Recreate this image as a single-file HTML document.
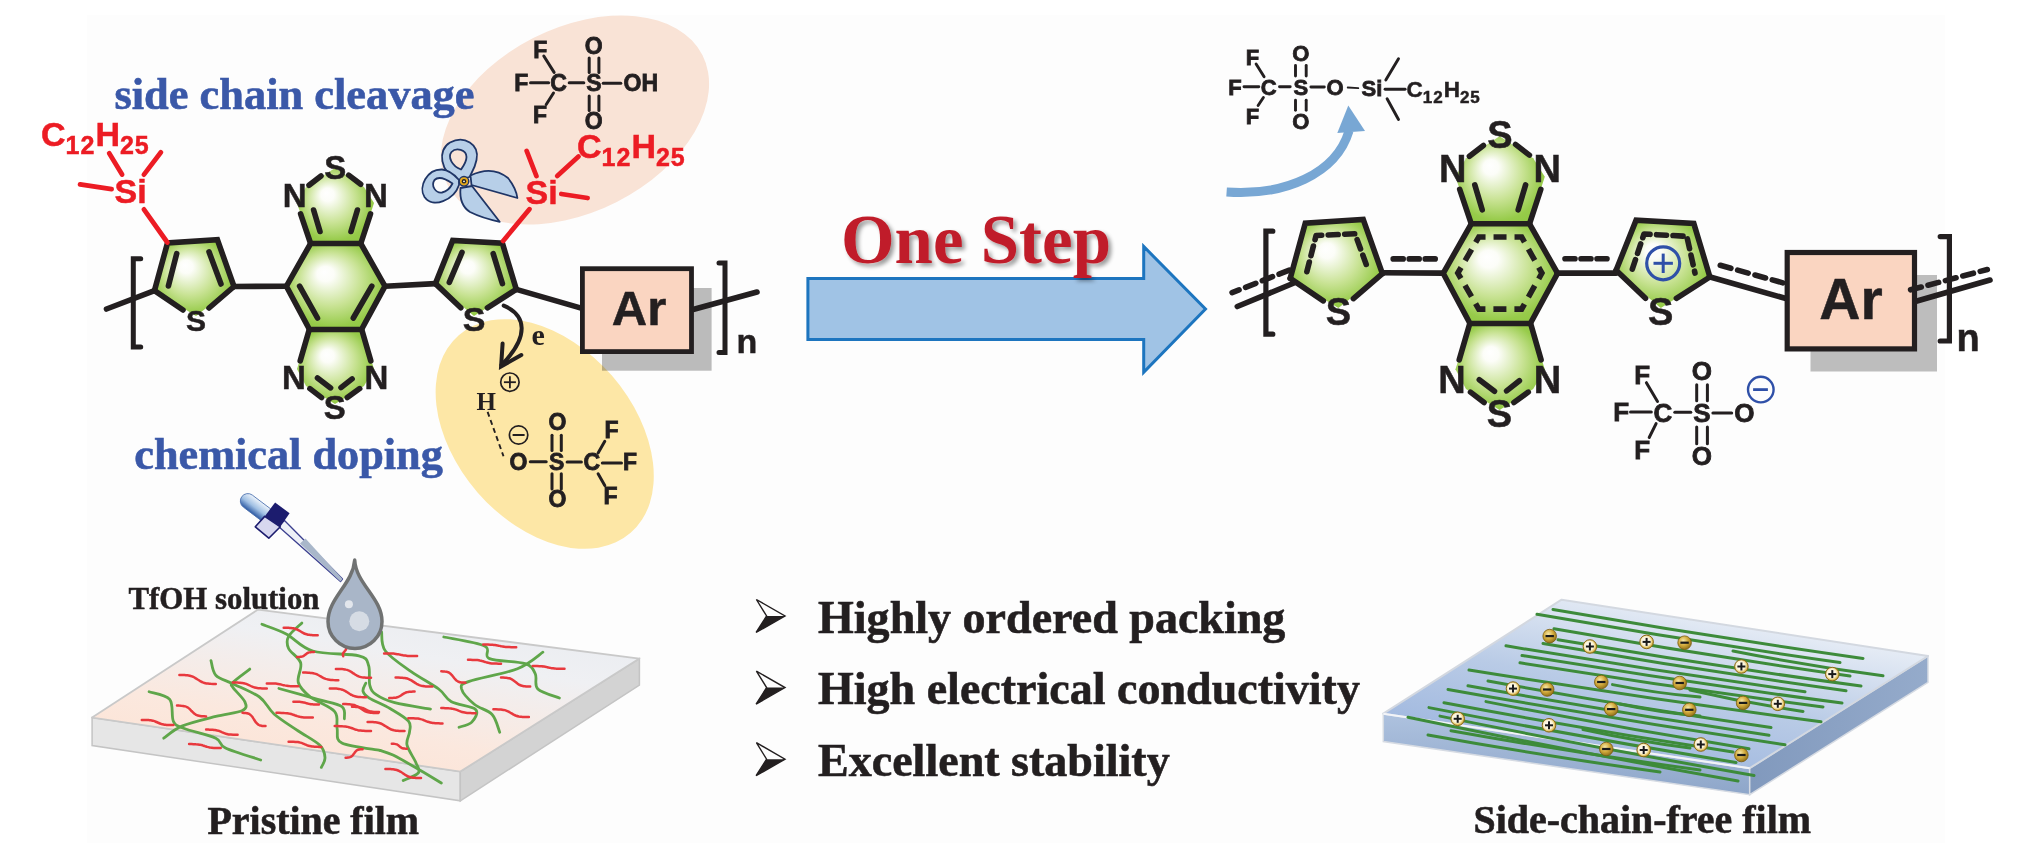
<!DOCTYPE html>
<html><head><meta charset="utf-8">
<style>
html,body{margin:0;padding:0;background:#ffffff;}
body{width:2020px;height:866px;overflow:hidden;}
svg{display:block;}
</style></head>
<body>
<svg width="2020" height="866" viewBox="0 0 2020 866">

<defs>
 <radialGradient id="gG" cx="0.5" cy="0.5" r="0.62" fx="0.38" fy="0.33">
  <stop offset="0" stop-color="#ffffff"/>
  <stop offset="0.14" stop-color="#fcfdf8"/>
  <stop offset="0.5" stop-color="#c9e395"/>
  <stop offset="0.8" stop-color="#97cb4a"/>
  <stop offset="1" stop-color="#8cc63f"/>
 </radialGradient>
 <filter id="shd" x="-10%" y="-20%" width="130%" height="150%">
  <feGaussianBlur in="SourceAlpha" stdDeviation="2.3" result="bl"/>
  <feOffset in="bl" dx="2.5" dy="3" result="ob"/>
  <feComponentTransfer in="ob" result="oc"><feFuncA type="linear" slope="0.4"/></feComponentTransfer>
  <feMerge><feMergeNode in="oc"/><feMergeNode in="SourceGraphic"/></feMerge>
 </filter>
 <linearGradient id="pristTop" x1="0" y1="1" x2="0.55" y2="0">
  <stop offset="0" stop-color="#fde1d1"/>
  <stop offset="0.4" stop-color="#fbe8de"/>
  <stop offset="0.8" stop-color="#eff0f3"/>
  <stop offset="1" stop-color="#ebedf1"/>
 </linearGradient>
 <linearGradient id="freeTop" x1="0" y1="1" x2="0.6" y2="0">
  <stop offset="0" stop-color="#93aedb"/>
  <stop offset="0.55" stop-color="#b9cbe6"/>
  <stop offset="1" stop-color="#eef2f8"/>
 </linearGradient>
 <linearGradient id="freeFront" x1="0" y1="0" x2="0" y2="1">
  <stop offset="0" stop-color="#aec2df"/>
  <stop offset="1" stop-color="#8ea6c9"/>
 </linearGradient>
 <linearGradient id="freeSide" x1="0" y1="0" x2="1" y2="0">
  <stop offset="0" stop-color="#8199bd"/>
  <stop offset="1" stop-color="#95abcb"/>
 </linearGradient>
 <radialGradient id="goldM" cx="0.4" cy="0.35" r="0.7">
  <stop offset="0" stop-color="#f6e7a8"/>
  <stop offset="0.5" stop-color="#d3ab3c"/>
  <stop offset="1" stop-color="#8a6a16"/>
 </radialGradient>
 <radialGradient id="goldP" cx="0.45" cy="0.45" r="0.6">
  <stop offset="0" stop-color="#ffffff"/>
  <stop offset="0.55" stop-color="#fbf3d6"/>
  <stop offset="0.8" stop-color="#e0bf5a"/>
  <stop offset="1" stop-color="#9c7a1f"/>
 </radialGradient>
 <linearGradient id="bulb" x1="0" y1="1" x2="0" y2="0">
  <stop offset="0" stop-color="#2d5aa3"/>
  <stop offset="0.45" stop-color="#9fbfe3"/>
  <stop offset="1" stop-color="#eef4fb"/>
 </linearGradient>
</defs>

<rect x="87" y="15" width="1858" height="828" fill="#fdfdfd"/>
<ellipse cx="575" cy="120" rx="143" ry="92" transform="rotate(-27 575 120)" fill="#f9e3d6"/>
<ellipse cx="544.7" cy="434" rx="131" ry="89" transform="rotate(49 544.7 434)" fill="#fde7a6"/>
<polygon points="167.5,242.9 217.4,239.7 234.0,286.5 196.0,316.0 154.5,290.6" fill="url(#gG)" stroke="none" stroke-width="0" />
<polygon points="310.6,243.5 360.8,243.5 385.0,286.2 361.5,329.5 309.5,329.5 286.4,286.2" fill="url(#gG)" stroke="none" stroke-width="0" />
<polygon points="310.6,243.5 297.0,203.0 306.0,187.0 335.0,168.0 364.0,187.0 374.0,203.0 360.8,243.5" fill="url(#gG)" stroke="none" stroke-width="0" />
<polygon points="309.5,329.5 297.0,369.0 306.0,386.0 335.0,404.0 364.0,386.0 374.0,369.0 361.5,329.5" fill="url(#gG)" stroke="none" stroke-width="0" />
<polygon points="452.7,240.4 502.4,243.2 516.3,289.4 474.0,316.0 435.4,283.6" fill="url(#gG)" stroke="none" stroke-width="0" />
<polyline points="154.5,290.6 167.5,242.9 217.4,239.7 234.0,286.5" fill="none" stroke="#231f20" stroke-width="5.6" stroke-linejoin="miter" stroke-linecap="round" />
<line x1="154.5" y1="290.6" x2="183.0" y2="310.0" stroke="#231f20" stroke-width="5.6" stroke-linecap="round" />
<line x1="234.0" y1="286.5" x2="209.0" y2="308.0" stroke="#231f20" stroke-width="5.6" stroke-linecap="round" />
<polygon points="310.6,243.5 360.8,243.5 385.0,286.2 361.5,329.5 309.5,329.5 286.4,286.2" fill="none" stroke="#231f20" stroke-width="5.6" stroke-linejoin="miter"/>
<line x1="310.6" y1="243.5" x2="300.6" y2="213.9" stroke="#231f20" stroke-width="5.6" stroke-linecap="round" />
<line x1="360.8" y1="243.5" x2="370.5" y2="213.9" stroke="#231f20" stroke-width="5.6" stroke-linecap="round" />
<line x1="313.6" y1="210.0" x2="320.0" y2="231.5" stroke="#231f20" stroke-width="5.6" stroke-linecap="round" />
<line x1="357.4" y1="210.0" x2="351.0" y2="231.5" stroke="#231f20" stroke-width="5.6" stroke-linecap="round" />
<line x1="309.0" y1="185.3" x2="321.0" y2="176.0" stroke="#231f20" stroke-width="5.6" stroke-linecap="round" />
<line x1="348.7" y1="175.1" x2="360.7" y2="184.3" stroke="#231f20" stroke-width="5.6" stroke-linecap="round" />
<line x1="309.2" y1="329.7" x2="300.2" y2="360.9" stroke="#231f20" stroke-width="5.6" stroke-linecap="round" />
<line x1="361.8" y1="329.7" x2="370.8" y2="360.9" stroke="#231f20" stroke-width="5.6" stroke-linecap="round" />
<line x1="309.9" y1="388.6" x2="321.6" y2="397.6" stroke="#231f20" stroke-width="5.6" stroke-linecap="round" />
<line x1="347.3" y1="397.6" x2="359.7" y2="388.6" stroke="#231f20" stroke-width="5.6" stroke-linecap="round" />
<line x1="317.5" y1="378.0" x2="330.6" y2="387.9" stroke="#231f20" stroke-width="5.6" stroke-linecap="round" />
<line x1="341.0" y1="387.6" x2="352.1" y2="378.9" stroke="#231f20" stroke-width="5.6" stroke-linecap="round" />
<polyline points="435.4,283.6 452.7,240.4 502.4,243.2 516.3,289.4" fill="none" stroke="#231f20" stroke-width="5.6" stroke-linejoin="miter" stroke-linecap="round" />
<line x1="435.4" y1="283.6" x2="460.8" y2="307.8" stroke="#231f20" stroke-width="5.6" stroke-linecap="round" />
<line x1="516.3" y1="289.4" x2="487.4" y2="307.8" stroke="#231f20" stroke-width="5.6" stroke-linecap="round" />
<line x1="176.7" y1="253.6" x2="168.4" y2="286.0" stroke="#231f20" stroke-width="5.6" stroke-linecap="round" />
<line x1="209.0" y1="251.8" x2="221.0" y2="284.0" stroke="#231f20" stroke-width="5.6" stroke-linecap="round" />
<line x1="299.6" y1="286.2" x2="317.5" y2="318.0" stroke="#231f20" stroke-width="5.6" stroke-linecap="round" />
<line x1="371.8" y1="286.2" x2="353.3" y2="318.0" stroke="#231f20" stroke-width="5.6" stroke-linecap="round" />
<line x1="462.0" y1="252.4" x2="449.3" y2="282.4" stroke="#231f20" stroke-width="5.6" stroke-linecap="round" />
<line x1="493.2" y1="253.6" x2="502.4" y2="283.6" stroke="#231f20" stroke-width="5.6" stroke-linecap="round" />
<line x1="154.5" y1="290.6" x2="106.5" y2="309.0" stroke="#231f20" stroke-width="5.6" stroke-linecap="round" />
<polyline points="140.7,258.8 133.3,258.8 133.3,347.0 140.7,347.0" fill="none" stroke="#231f20" stroke-width="5" stroke-linejoin="miter" stroke-linecap="round" />
<line x1="234.0" y1="286.5" x2="286.4" y2="286.2" stroke="#231f20" stroke-width="5.6" stroke-linecap="round" />
<line x1="385.0" y1="286.2" x2="435.4" y2="283.6" stroke="#231f20" stroke-width="5.6" stroke-linecap="round" />
<line x1="516.3" y1="289.4" x2="582.0" y2="308.4" stroke="#231f20" stroke-width="5.6" stroke-linecap="round" />
<text x="196.0" y="330.5" font-size="30" font-family="Liberation Sans" font-weight="bold" fill="#231f20" stroke="#231f20" stroke-width="0.5" text-anchor="middle" >S</text>
<text x="294.6" y="207.4" font-size="33" font-family="Liberation Sans" font-weight="bold" fill="#231f20" stroke="#231f20" stroke-width="0.5" text-anchor="middle" >N</text>
<text x="376.0" y="207.4" font-size="33" font-family="Liberation Sans" font-weight="bold" fill="#231f20" stroke="#231f20" stroke-width="0.5" text-anchor="middle" >N</text>
<text x="335.3" y="178.5" font-size="33" font-family="Liberation Sans" font-weight="bold" fill="#231f20" stroke="#231f20" stroke-width="0.5" text-anchor="middle" >S</text>
<text x="294.0" y="389.0" font-size="33" font-family="Liberation Sans" font-weight="bold" fill="#231f20" stroke="#231f20" stroke-width="0.5" text-anchor="middle" >N</text>
<text x="376.3" y="389.0" font-size="33" font-family="Liberation Sans" font-weight="bold" fill="#231f20" stroke="#231f20" stroke-width="0.5" text-anchor="middle" >N</text>
<text x="334.8" y="418.5" font-size="33" font-family="Liberation Sans" font-weight="bold" fill="#231f20" stroke="#231f20" stroke-width="0.5" text-anchor="middle" >S</text>
<text x="474.0" y="330.5" font-size="34" font-family="Liberation Sans" font-weight="bold" fill="#231f20" stroke="#231f20" stroke-width="0.5" text-anchor="middle" >S</text>
<line x1="167.4" y1="242.5" x2="143.9" y2="209.4" stroke="#ec1c24" stroke-width="4.8" stroke-linecap="round" />
<line x1="109.2" y1="153.3" x2="122.1" y2="174.6" stroke="#ec1c24" stroke-width="4.8" stroke-linecap="round" />
<line x1="160.9" y1="152.3" x2="143.9" y2="174.6" stroke="#ec1c24" stroke-width="4.8" stroke-linecap="round" />
<line x1="80.1" y1="184.3" x2="111.6" y2="189.2" stroke="#ec1c24" stroke-width="4.8" stroke-linecap="round" />
<text x="114.5" y="203.4" font-size="34" font-family="Liberation Sans" font-weight="bold" fill="#ec1c24" stroke="#ec1c24" stroke-width="0.5" text-anchor="start" >Si</text>
<text x="41" y="146" font-size="34" font-family="Liberation Sans" font-weight="bold" fill="#ec1c24" stroke="#ec1c24" stroke-width="0.5">C<tspan font-size="25" dy="8" letter-spacing="1">12</tspan><tspan dy="-8">H</tspan><tspan font-size="25" dy="8" letter-spacing="1">25</tspan></text>
<line x1="503.1" y1="241.0" x2="529.4" y2="209.2" stroke="#ec1c24" stroke-width="4.8" stroke-linecap="round" />
<line x1="526.7" y1="151.0" x2="536.4" y2="176.0" stroke="#ec1c24" stroke-width="4.8" stroke-linecap="round" />
<line x1="557.2" y1="176.0" x2="578.5" y2="156.5" stroke="#ec1c24" stroke-width="4.8" stroke-linecap="round" />
<line x1="561.3" y1="194.0" x2="587.6" y2="198.0" stroke="#ec1c24" stroke-width="4.8" stroke-linecap="round" />
<text x="525.5" y="204.0" font-size="34" font-family="Liberation Sans" font-weight="bold" fill="#ec1c24" stroke="#ec1c24" stroke-width="0.5" text-anchor="start" >Si</text>
<text x="577" y="158" font-size="34" font-family="Liberation Sans" font-weight="bold" fill="#ec1c24" stroke="#ec1c24" stroke-width="0.5">C<tspan font-size="25" dy="7.7" letter-spacing="1">12</tspan><tspan dy="-7.7">H</tspan><tspan font-size="25" dy="7.7" letter-spacing="1">25</tspan></text>
<rect x="602" y="288" width="109.6" height="82.7" fill="#bdbdbd" style="mix-blend-mode:multiply"/>
<rect x="582.4" y="268.7" width="109.1" height="82.9" fill="#fad5c1" stroke="#231f20" stroke-width="4.8"/>
<text x="639.0" y="324.8" font-size="49" font-family="Liberation Sans" font-weight="bold" fill="#231f20" stroke="#231f20" stroke-width="0.5" text-anchor="middle" >Ar</text>
<line x1="694.0" y1="309.3" x2="757.0" y2="292.0" stroke="#231f20" stroke-width="5.6" stroke-linecap="round" />
<polyline points="719.0,263.0 725.0,263.0 725.0,352.6 719.0,352.6" fill="none" stroke="#231f20" stroke-width="5" stroke-linejoin="miter" stroke-linecap="round" />
<text x="736.5" y="352.6" font-size="34" font-family="Liberation Sans" font-weight="bold" fill="#231f20" stroke="#231f20" stroke-width="0.5" text-anchor="start" >n</text>
<path d="M503.7,305.6 C526,315 530,336 501.5,365" fill="none" stroke="#231f20" stroke-width="4" stroke-linecap="round"/>
<polyline points="502.6,343.5 501.1,366.4 521.3,355.0" fill="none" stroke="#231f20" stroke-width="4" stroke-linejoin="miter" stroke-linecap="round" />
<text x="531.5" y="345.0" font-size="30" font-family="Liberation Serif" font-weight="bold" fill="#231f20"  text-anchor="start" >e</text>
<line x1="530.5" y1="82.7" x2="548.6" y2="82.7" stroke="#231f20" stroke-width="3" stroke-linecap="round" />
<line x1="569.2" y1="82.7" x2="583.8" y2="82.7" stroke="#231f20" stroke-width="3" stroke-linecap="round" />
<line x1="603.2" y1="83.3" x2="620.8" y2="83.3" stroke="#231f20" stroke-width="3" stroke-linecap="round" />
<line x1="543.8" y1="56.0" x2="554.1" y2="72.4" stroke="#231f20" stroke-width="3" stroke-linecap="round" />
<line x1="553.5" y1="93.0" x2="546.2" y2="104.5" stroke="#231f20" stroke-width="3" stroke-linecap="round" />
<line x1="589.2" y1="57.9" x2="589.2" y2="72.4" stroke="#231f20" stroke-width="3" stroke-linecap="round" />
<line x1="589.2" y1="96.0" x2="589.2" y2="110.6" stroke="#231f20" stroke-width="3" stroke-linecap="round" />
<line x1="598.9" y1="57.9" x2="598.9" y2="72.4" stroke="#231f20" stroke-width="3" stroke-linecap="round" />
<line x1="598.9" y1="96.0" x2="598.9" y2="110.6" stroke="#231f20" stroke-width="3" stroke-linecap="round" />
<text x="540.2" y="57.6" font-size="23" font-family="Liberation Sans" font-weight="bold" fill="#231f20" stroke="#231f20" stroke-width="0.8" text-anchor="middle" >F</text>
<text x="521.4" y="90.6" font-size="23" font-family="Liberation Sans" font-weight="bold" fill="#231f20" stroke="#231f20" stroke-width="0.8" text-anchor="middle" >F</text>
<text x="540.0" y="123.3" font-size="23" font-family="Liberation Sans" font-weight="bold" fill="#231f20" stroke="#231f20" stroke-width="0.8" text-anchor="middle" >F</text>
<text x="558.6" y="90.6" font-size="23" font-family="Liberation Sans" font-weight="bold" fill="#231f20" stroke="#231f20" stroke-width="0.8" text-anchor="middle" >C</text>
<text x="593.8" y="90.6" font-size="23" font-family="Liberation Sans" font-weight="bold" fill="#231f20" stroke="#231f20" stroke-width="0.8" text-anchor="middle" >S</text>
<text x="623.5" y="90.6" font-size="23" font-family="Liberation Sans" font-weight="bold" fill="#231f20" stroke="#231f20" stroke-width="0.8" text-anchor="start" >OH</text>
<text x="593.8" y="53.6" font-size="23" font-family="Liberation Sans" font-weight="bold" fill="#231f20" stroke="#231f20" stroke-width="0.8" text-anchor="middle" >O</text>
<text x="593.8" y="129.4" font-size="23" font-family="Liberation Sans" font-weight="bold" fill="#231f20" stroke="#231f20" stroke-width="0.8" text-anchor="middle" >O</text>
<circle cx="509.9" cy="382.2" r="9.2" fill="none" stroke="#231f20" stroke-width="1.7"/>
<line x1="503.9" y1="382.2" x2="515.9" y2="382.2" stroke="#231f20" stroke-width="1.8" stroke-linecap="butt" />
<line x1="509.9" y1="376.2" x2="509.9" y2="388.2" stroke="#231f20" stroke-width="1.8" stroke-linecap="butt" />
<text x="486.3" y="409.9" font-size="25" font-family="Liberation Serif" font-weight="bold" fill="#231f20"  text-anchor="middle" >H</text>
<line x1="487.6" y1="411.9" x2="503.5" y2="456.3" stroke="#231f20" stroke-width="1.9" stroke-linecap="butt" stroke-dasharray="5,3.6"/>
<circle cx="518.6" cy="435" r="9.2" fill="none" stroke="#231f20" stroke-width="1.7"/>
<line x1="512.6" y1="435.0" x2="524.6" y2="435.0" stroke="#231f20" stroke-width="2" stroke-linecap="butt" />
<line x1="530.3" y1="461.8" x2="546.2" y2="461.8" stroke="#231f20" stroke-width="3" stroke-linecap="round" />
<line x1="567.1" y1="462.1" x2="581.4" y2="462.1" stroke="#231f20" stroke-width="3" stroke-linecap="round" />
<line x1="602.3" y1="463.0" x2="621.5" y2="463.0" stroke="#231f20" stroke-width="3" stroke-linecap="round" />
<line x1="598.1" y1="452.9" x2="604.8" y2="441.2" stroke="#231f20" stroke-width="3" stroke-linecap="round" />
<line x1="598.1" y1="473.8" x2="604.8" y2="485.6" stroke="#231f20" stroke-width="3" stroke-linecap="round" />
<line x1="552.0" y1="435.3" x2="552.0" y2="450.4" stroke="#231f20" stroke-width="3" stroke-linecap="round" />
<line x1="552.0" y1="473.8" x2="552.0" y2="488.9" stroke="#231f20" stroke-width="3" stroke-linecap="round" />
<line x1="561.3" y1="435.3" x2="561.3" y2="450.4" stroke="#231f20" stroke-width="3" stroke-linecap="round" />
<line x1="561.3" y1="473.8" x2="561.3" y2="488.9" stroke="#231f20" stroke-width="3" stroke-linecap="round" />
<text x="518.5" y="469.7" font-size="23" font-family="Liberation Sans" font-weight="bold" fill="#231f20" stroke="#231f20" stroke-width="0.8" text-anchor="middle" >O</text>
<text x="556.6" y="469.7" font-size="23" font-family="Liberation Sans" font-weight="bold" fill="#231f20" stroke="#231f20" stroke-width="0.8" text-anchor="middle" >S</text>
<text x="591.8" y="469.7" font-size="23" font-family="Liberation Sans" font-weight="bold" fill="#231f20" stroke="#231f20" stroke-width="0.8" text-anchor="middle" >C</text>
<text x="630.0" y="470.0" font-size="23" font-family="Liberation Sans" font-weight="bold" fill="#231f20" stroke="#231f20" stroke-width="0.8" text-anchor="middle" >F</text>
<text x="611.5" y="437.8" font-size="23" font-family="Liberation Sans" font-weight="bold" fill="#231f20" stroke="#231f20" stroke-width="0.8" text-anchor="middle" >F</text>
<text x="610.6" y="504.0" font-size="23" font-family="Liberation Sans" font-weight="bold" fill="#231f20" stroke="#231f20" stroke-width="0.8" text-anchor="middle" >F</text>
<text x="557.4" y="430.3" font-size="23" font-family="Liberation Sans" font-weight="bold" fill="#231f20" stroke="#231f20" stroke-width="0.8" text-anchor="middle" >O</text>
<text x="557.4" y="507.3" font-size="23" font-family="Liberation Sans" font-weight="bold" fill="#231f20" stroke="#231f20" stroke-width="0.8" text-anchor="middle" >O</text>
<text x="114.5" y="109" font-size="44.6" font-family="Liberation Serif" font-weight="bold" fill="#3a58a8" stroke="#3a58a8" stroke-width="0.6" textLength="360" lengthAdjust="spacingAndGlyphs">side chain cleavage</text>
<text x="134.3" y="468.8" font-size="44.4" font-family="Liberation Serif" font-weight="bold" fill="#3a58a8" stroke="#3a58a8" stroke-width="0.6" textLength="308.5" lengthAdjust="spacingAndGlyphs">chemical doping</text>
<g stroke="#1f3566" stroke-width="1.8" stroke-linejoin="round">
<path d="M470.5,175.5 Q492,165 508,178 Q516,188 517.4,198 L471.5,185 Z" fill="#b7cfe8"/>
<path d="M460.5,188 Q459,205 470,212 Q482,218 499.7,221.8 L472,186 Z" fill="#b7cfe8"/>
<path fill-rule="evenodd" fill="#b7cfe8" d="M458,180 C440,172 437,150 450,142.5 C464,135 480,144 476.5,160 C475,168 472,172 469.5,177 Z M461,169.5 C452,166 447.5,157 451.5,152 C456,147 466.5,149.5 466.5,157 C466.5,162 463.5,166 461,169.5 Z"/>
<path fill-rule="evenodd" fill="#b7cfe8" d="M459,185 C454,200 433,209 424.5,197 C418,187 427,169 442,169.5 C450,170 455.5,176 459,180 Z M452.5,183.5 C446,179 438.5,176 434.5,180 C430.5,186 436,193.5 442,192.5 C447,191.5 450.5,187.5 452.5,183.5 Z"/>
<circle cx="464" cy="181.3" r="4.8" fill="#e5a91c" stroke="#1f3566" stroke-width="1.4"/>
<circle cx="464" cy="181.3" r="2.2" fill="#222222" stroke="none"/>
<circle cx="464" cy="181.3" r="0.9" fill="#ffffff" stroke="none"/>
</g>
<polygon points="807.9,278.6 1143.7,278.6 1143.7,246.5 1205.5,309 1143.7,372.3 1143.7,339.5 807.9,339.5" fill="#a0c3e5" stroke="#1d75bf" stroke-width="3" stroke-linejoin="miter"/>
<text x="841" y="262.5" font-size="70" font-family="Liberation Serif" font-weight="bold" fill="#c01f29" filter="url(#shd)" textLength="270" lengthAdjust="spacingAndGlyphs">One Step</text>
<polygon points="1305.3,223.1 1363.2,219.4 1382.4,273.6 1338.4,307.9 1290.2,278.4" fill="url(#gG)" stroke="none" stroke-width="0" />
<polygon points="1471.3,223.8 1529.5,223.8 1557.6,273.3 1530.3,323.5 1470.0,323.5 1443.2,273.3" fill="url(#gG)" stroke="none" stroke-width="0" />
<polygon points="1471.3,223.8 1455.5,176.8 1466.0,158.2 1499.6,136.2 1533.2,158.2 1544.8,176.8 1529.5,223.8" fill="url(#gG)" stroke="none" stroke-width="0" />
<polygon points="1470.0,323.5 1455.5,369.3 1466.0,389.1 1499.6,409.9 1533.2,389.1 1544.8,369.3 1530.3,323.5" fill="url(#gG)" stroke="none" stroke-width="0" />
<polygon points="1636.1,220.2 1693.8,223.4 1709.9,277.0 1660.8,307.9 1616.1,270.3" fill="url(#gG)" stroke="none" stroke-width="0" />
<polyline points="1290.2,278.4 1305.3,223.1 1363.2,219.4 1382.4,273.6" fill="none" stroke="#231f20" stroke-width="5.6" stroke-linejoin="miter" stroke-linecap="round" />
<line x1="1290.2" y1="278.4" x2="1323.3" y2="300.9" stroke="#231f20" stroke-width="5.6" stroke-linecap="round" />
<line x1="1382.4" y1="273.6" x2="1353.4" y2="298.6" stroke="#231f20" stroke-width="5.6" stroke-linecap="round" />
<polygon points="1471.3,223.8 1529.5,223.8 1557.6,273.3 1530.3,323.5 1470.0,323.5 1443.2,273.3" fill="none" stroke="#231f20" stroke-width="5.6" stroke-linejoin="miter"/>
<line x1="1471.3" y1="223.8" x2="1459.7" y2="189.4" stroke="#231f20" stroke-width="5.6" stroke-linecap="round" />
<line x1="1529.5" y1="223.8" x2="1540.8" y2="189.4" stroke="#231f20" stroke-width="5.6" stroke-linecap="round" />
<line x1="1474.8" y1="184.9" x2="1482.2" y2="209.8" stroke="#231f20" stroke-width="5.6" stroke-linecap="round" />
<line x1="1525.6" y1="184.9" x2="1518.2" y2="209.8" stroke="#231f20" stroke-width="5.6" stroke-linecap="round" />
<line x1="1469.4" y1="156.2" x2="1483.4" y2="145.5" stroke="#231f20" stroke-width="5.6" stroke-linecap="round" />
<line x1="1515.5" y1="144.4" x2="1529.4" y2="155.1" stroke="#231f20" stroke-width="5.6" stroke-linecap="round" />
<line x1="1469.7" y1="323.8" x2="1459.2" y2="359.9" stroke="#231f20" stroke-width="5.6" stroke-linecap="round" />
<line x1="1530.7" y1="323.8" x2="1541.1" y2="359.9" stroke="#231f20" stroke-width="5.6" stroke-linecap="round" />
<line x1="1470.5" y1="392.1" x2="1484.1" y2="402.5" stroke="#231f20" stroke-width="5.6" stroke-linecap="round" />
<line x1="1513.9" y1="402.5" x2="1528.3" y2="392.1" stroke="#231f20" stroke-width="5.6" stroke-linecap="round" />
<line x1="1479.3" y1="379.8" x2="1494.5" y2="391.3" stroke="#231f20" stroke-width="5.6" stroke-linecap="round" />
<line x1="1506.6" y1="390.9" x2="1519.4" y2="380.8" stroke="#231f20" stroke-width="5.6" stroke-linecap="round" />
<polyline points="1616.1,270.3 1636.1,220.2 1693.8,223.4 1709.9,277.0" fill="none" stroke="#231f20" stroke-width="5.6" stroke-linejoin="miter" stroke-linecap="round" />
<line x1="1616.1" y1="270.3" x2="1645.5" y2="298.3" stroke="#231f20" stroke-width="5.6" stroke-linecap="round" />
<line x1="1709.9" y1="277.0" x2="1676.4" y2="298.3" stroke="#231f20" stroke-width="5.6" stroke-linecap="round" />
<polygon points="1457.8,273.1 1478.8,237 1521.6,237 1541.9,273.1 1521.6,309.1 1478.8,309.1" fill="none" stroke="#231f20" stroke-width="5.6" stroke-dasharray="13,8" stroke-dashoffset="6.5" stroke-linejoin="miter"/>
<polyline points="1306.6,272.7 1316.1,235.5 1355,233.8 1368,269.3" fill="none" stroke="#231f20" stroke-width="5.6" stroke-dasharray="10,6.5" stroke-dashoffset="-1" stroke-linecap="round" stroke-linejoin="round"/>
<polyline points="1632,270 1644,234 1686.8,236.3 1695,273.1" fill="none" stroke="#231f20" stroke-width="5.6" stroke-dasharray="10,6.5" stroke-dashoffset="-1" stroke-linecap="round" stroke-linejoin="round"/>
<line x1="1382.8" y1="272.7" x2="1442.8" y2="273.1" stroke="#231f20" stroke-width="5.6" stroke-linecap="round" />
<line x1="1393.2" y1="258.9" x2="1435.6" y2="258.9" stroke="#231f20" stroke-width="5.6" stroke-linecap="round" stroke-dasharray="10,6"/>
<line x1="1556.9" y1="273.1" x2="1616.2" y2="273.1" stroke="#231f20" stroke-width="5.6" stroke-linecap="round" />
<line x1="1565.0" y1="258.8" x2="1608.7" y2="258.8" stroke="#231f20" stroke-width="5.6" stroke-linecap="round" stroke-dasharray="10,6"/>
<line x1="1294.0" y1="283.0" x2="1237.3" y2="306.5" stroke="#231f20" stroke-width="5.6" stroke-linecap="round" />
<line x1="1289.3" y1="270.1" x2="1232.1" y2="292.6" stroke="#231f20" stroke-width="5.6" stroke-linecap="round" stroke-dasharray="11,7"/>
<polyline points="1272.8,231.2 1265.9,231.2 1265.9,334.2 1272.8,334.2" fill="none" stroke="#231f20" stroke-width="5.2" stroke-linejoin="miter" stroke-linecap="round" />
<line x1="1709.3" y1="276.8" x2="1786.0" y2="298.5" stroke="#231f20" stroke-width="5.6" stroke-linecap="round" />
<line x1="1720.3" y1="265.3" x2="1789.6" y2="284.7" stroke="#231f20" stroke-width="5.6" stroke-linecap="round" stroke-dasharray="11,7"/>
<rect x="1810.5" y="275" width="126.5" height="96.5" fill="#bdbdbd"/>
<rect x="1787.2" y="252.5" width="127.3" height="96.4" fill="#fad5c1" stroke="#231f20" stroke-width="5.2"/>
<text x="1851.0" y="318.8" font-size="57" font-family="Liberation Sans" font-weight="bold" fill="#231f20" stroke="#231f20" stroke-width="0.5" text-anchor="middle" >Ar</text>
<line x1="1916.1" y1="301.3" x2="1990.0" y2="280.0" stroke="#231f20" stroke-width="5.6" stroke-linecap="round" />
<line x1="1910.6" y1="289.8" x2="1987.3" y2="269.5" stroke="#231f20" stroke-width="5.6" stroke-linecap="round" stroke-dasharray="11,7"/>
<polyline points="1940.2,236.6 1949.4,236.6 1949.4,341.0 1940.2,341.0" fill="none" stroke="#231f20" stroke-width="5.2" stroke-linejoin="miter" stroke-linecap="round" />
<text x="1956.5" y="351.2" font-size="38" font-family="Liberation Sans" font-weight="bold" fill="#231f20" stroke="#231f20" stroke-width="0.5" text-anchor="start" >n</text>
<text x="1452.7" y="181.9" font-size="38" font-family="Liberation Sans" font-weight="bold" fill="#231f20" stroke="#231f20" stroke-width="0.5" text-anchor="middle" >N</text>
<text x="1547.2" y="181.9" font-size="38" font-family="Liberation Sans" font-weight="bold" fill="#231f20" stroke="#231f20" stroke-width="0.5" text-anchor="middle" >N</text>
<text x="1499.9" y="148.4" font-size="38" font-family="Liberation Sans" font-weight="bold" fill="#231f20" stroke="#231f20" stroke-width="0.5" text-anchor="middle" >S</text>
<text x="1452.0" y="392.5" font-size="38" font-family="Liberation Sans" font-weight="bold" fill="#231f20" stroke="#231f20" stroke-width="0.5" text-anchor="middle" >N</text>
<text x="1547.5" y="392.5" font-size="38" font-family="Liberation Sans" font-weight="bold" fill="#231f20" stroke="#231f20" stroke-width="0.5" text-anchor="middle" >N</text>
<text x="1499.4" y="426.8" font-size="38" font-family="Liberation Sans" font-weight="bold" fill="#231f20" stroke="#231f20" stroke-width="0.5" text-anchor="middle" >S</text>
<text x="1338.4" y="324.7" font-size="38" font-family="Liberation Sans" font-weight="bold" fill="#231f20" stroke="#231f20" stroke-width="0.5" text-anchor="middle" >S</text>
<text x="1660.8" y="324.7" font-size="38" font-family="Liberation Sans" font-weight="bold" fill="#231f20" stroke="#231f20" stroke-width="0.5" text-anchor="middle" >S</text>
<circle cx="1663.2" cy="263.3" r="16.5" fill="none" stroke="#2f50a8" stroke-width="3.2"/>
<line x1="1653.5" y1="263.3" x2="1672.9" y2="263.3" stroke="#2f50a8" stroke-width="3" stroke-linecap="butt" />
<line x1="1663.2" y1="253.6" x2="1663.2" y2="273.0" stroke="#2f50a8" stroke-width="3" stroke-linecap="butt" />
<line x1="1630.5" y1="412.1" x2="1651.3" y2="412.1" stroke="#231f20" stroke-width="3" stroke-linecap="round" />
<line x1="1674.8" y1="412.3" x2="1690.8" y2="412.3" stroke="#231f20" stroke-width="3" stroke-linecap="round" />
<line x1="1712.9" y1="412.9" x2="1731.7" y2="412.9" stroke="#231f20" stroke-width="3" stroke-linecap="round" />
<line x1="1646.4" y1="382.7" x2="1657.5" y2="401.4" stroke="#231f20" stroke-width="3" stroke-linecap="round" />
<line x1="1656.1" y1="423.6" x2="1649.2" y2="437.5" stroke="#231f20" stroke-width="3" stroke-linecap="round" />
<line x1="1696.7" y1="384.8" x2="1696.7" y2="400.7" stroke="#231f20" stroke-width="3" stroke-linecap="round" />
<line x1="1696.7" y1="427.0" x2="1696.7" y2="443.7" stroke="#231f20" stroke-width="3" stroke-linecap="round" />
<line x1="1707.4" y1="384.8" x2="1707.4" y2="400.7" stroke="#231f20" stroke-width="3" stroke-linecap="round" />
<line x1="1707.4" y1="427.0" x2="1707.4" y2="443.7" stroke="#231f20" stroke-width="3" stroke-linecap="round" />
<text x="1642.3" y="384.4" font-size="26" font-family="Liberation Sans" font-weight="bold" fill="#231f20" stroke="#231f20" stroke-width="0.8" text-anchor="middle" >F</text>
<text x="1621.2" y="421.2" font-size="26" font-family="Liberation Sans" font-weight="bold" fill="#231f20" stroke="#231f20" stroke-width="0.8" text-anchor="middle" >F</text>
<text x="1642.2" y="458.7" font-size="26" font-family="Liberation Sans" font-weight="bold" fill="#231f20" stroke="#231f20" stroke-width="0.8" text-anchor="middle" >F</text>
<text x="1663.0" y="421.5" font-size="26" font-family="Liberation Sans" font-weight="bold" fill="#231f20" stroke="#231f20" stroke-width="0.8" text-anchor="middle" >C</text>
<text x="1702.0" y="421.5" font-size="26" font-family="Liberation Sans" font-weight="bold" fill="#231f20" stroke="#231f20" stroke-width="0.8" text-anchor="middle" >S</text>
<text x="1744.3" y="421.5" font-size="26" font-family="Liberation Sans" font-weight="bold" fill="#231f20" stroke="#231f20" stroke-width="0.8" text-anchor="middle" >O</text>
<text x="1701.8" y="380.0" font-size="26" font-family="Liberation Sans" font-weight="bold" fill="#231f20" stroke="#231f20" stroke-width="0.8" text-anchor="middle" >O</text>
<text x="1701.8" y="465.2" font-size="26" font-family="Liberation Sans" font-weight="bold" fill="#231f20" stroke="#231f20" stroke-width="0.8" text-anchor="middle" >O</text>
<circle cx="1760.8" cy="389.6" r="12.8" fill="none" stroke="#2f50a8" stroke-width="2.4"/>
<line x1="1753.1" y1="389.6" x2="1767.9" y2="389.6" stroke="#2f50a8" stroke-width="2.8" stroke-linecap="butt" />
<line x1="1244.0" y1="86.8" x2="1258.8" y2="86.8" stroke="#231f20" stroke-width="2.9" stroke-linecap="round" />
<line x1="1279.5" y1="86.8" x2="1290.2" y2="86.8" stroke="#231f20" stroke-width="2.9" stroke-linecap="round" />
<line x1="1310.9" y1="87.0" x2="1324.3" y2="87.0" stroke="#231f20" stroke-width="2.9" stroke-linecap="round" />
<line x1="1347.7" y1="87.5" x2="1358.3" y2="88.1" stroke="#231f20" stroke-width="1.8" stroke-linecap="round" />
<line x1="1385.1" y1="89.2" x2="1405.1" y2="89.2" stroke="#231f20" stroke-width="2.9" stroke-linecap="round" />
<line x1="1385.8" y1="80.1" x2="1398.5" y2="58.7" stroke="#231f20" stroke-width="2.9" stroke-linecap="round" />
<line x1="1387.1" y1="98.8" x2="1398.5" y2="119.5" stroke="#231f20" stroke-width="2.9" stroke-linecap="round" />
<line x1="1256.1" y1="64.1" x2="1264.1" y2="76.8" stroke="#231f20" stroke-width="2.9" stroke-linecap="round" />
<line x1="1263.4" y1="97.5" x2="1258.1" y2="105.5" stroke="#231f20" stroke-width="2.9" stroke-linecap="round" />
<line x1="1295.5" y1="65.4" x2="1295.5" y2="76.1" stroke="#231f20" stroke-width="2.9" stroke-linecap="round" />
<line x1="1295.5" y1="100.2" x2="1295.5" y2="110.2" stroke="#231f20" stroke-width="2.9" stroke-linecap="round" />
<line x1="1306.2" y1="65.4" x2="1306.2" y2="76.1" stroke="#231f20" stroke-width="2.9" stroke-linecap="round" />
<line x1="1306.2" y1="100.2" x2="1306.2" y2="110.2" stroke="#231f20" stroke-width="2.9" stroke-linecap="round" />
<text x="1252.4" y="64.7" font-size="22" font-family="Liberation Sans" font-weight="bold" fill="#231f20" stroke="#231f20" stroke-width="0.8" text-anchor="middle" >F</text>
<text x="1235.0" y="94.5" font-size="22" font-family="Liberation Sans" font-weight="bold" fill="#231f20" stroke="#231f20" stroke-width="0.8" text-anchor="middle" >F</text>
<text x="1252.4" y="124.2" font-size="22" font-family="Liberation Sans" font-weight="bold" fill="#231f20" stroke="#231f20" stroke-width="0.8" text-anchor="middle" >F</text>
<text x="1268.8" y="94.8" font-size="22" font-family="Liberation Sans" font-weight="bold" fill="#231f20" stroke="#231f20" stroke-width="0.8" text-anchor="middle" >C</text>
<text x="1300.8" y="94.8" font-size="22" font-family="Liberation Sans" font-weight="bold" fill="#231f20" stroke="#231f20" stroke-width="0.8" text-anchor="middle" >S</text>
<text x="1335.0" y="94.8" font-size="22" font-family="Liberation Sans" font-weight="bold" fill="#231f20" stroke="#231f20" stroke-width="0.8" text-anchor="middle" >O</text>
<text x="1300.9" y="61.4" font-size="22" font-family="Liberation Sans" font-weight="bold" fill="#231f20" stroke="#231f20" stroke-width="0.8" text-anchor="middle" >O</text>
<text x="1300.9" y="128.9" font-size="22" font-family="Liberation Sans" font-weight="bold" fill="#231f20" stroke="#231f20" stroke-width="0.8" text-anchor="middle" >O</text>
<text x="1361.5" y="96.1" font-size="22" font-family="Liberation Sans" font-weight="bold" fill="#231f20" stroke="#231f20" stroke-width="0.8" text-anchor="start" >Si</text>
<text x="1406.5" y="96.8" font-size="22.5" font-family="Liberation Sans" font-weight="bold" fill="#231f20" stroke="#231f20" stroke-width="0.5">C<tspan font-size="17" dy="6" letter-spacing="1">12</tspan><tspan dy="-6">H</tspan><tspan font-size="17" dy="6" letter-spacing="0.8">25</tspan></text>
<path d="M1226.6,192 C1285,196 1336,174 1349,131" fill="none" stroke="#78a7d4" stroke-width="9"/>
<polygon points="1348.3,105.5 1337.3,133 1365,131" fill="#78a7d4"/>
<path d="M756.4,599.5 L785,616.0 L756.1,632.5 L766.6,616.0 Z" fill="none" stroke="#231f20" stroke-width="1.4" stroke-linejoin="miter"/>
<path d="M766.6,616.0 L785,616.0 L756.1,632.5 Z" fill="#231f20"/>
<text x="818" y="632.6" font-size="46" font-family="Liberation Serif" font-weight="bold" fill="#231f20" stroke="#231f20" stroke-width="0.6" textLength="467.4" lengthAdjust="spacingAndGlyphs">Highly ordered packing</text>
<path d="M756.4,671.1 L785,687.6 L756.1,704.1 L766.6,687.6 Z" fill="none" stroke="#231f20" stroke-width="1.4" stroke-linejoin="miter"/>
<path d="M766.6,687.6 L785,687.6 L756.1,704.1 Z" fill="#231f20"/>
<text x="818" y="704.2" font-size="46" font-family="Liberation Serif" font-weight="bold" fill="#231f20" stroke="#231f20" stroke-width="0.6" textLength="541.9" lengthAdjust="spacingAndGlyphs">High electrical conductivity</text>
<path d="M756.4,742.7 L785,759.2 L756.1,775.7 L766.6,759.2 Z" fill="none" stroke="#231f20" stroke-width="1.4" stroke-linejoin="miter"/>
<path d="M766.6,759.2 L785,759.2 L756.1,775.7 Z" fill="#231f20"/>
<text x="818" y="775.8" font-size="46" font-family="Liberation Serif" font-weight="bold" fill="#231f20" stroke="#231f20" stroke-width="0.6" textLength="351.7" lengthAdjust="spacingAndGlyphs">Excellent stability</text>
<text x="128.5" y="608.8" font-size="31" font-family="Liberation Serif" font-weight="bold" fill="#231f20" stroke="#231f20" stroke-width="0.5" textLength="191" lengthAdjust="spacingAndGlyphs">TfOH solution</text>
<text x="207.5" y="833.6" font-size="40" font-family="Liberation Serif" font-weight="bold" fill="#231f20" stroke="#231f20" stroke-width="0.6" textLength="211.5" lengthAdjust="spacingAndGlyphs">Pristine film</text>
<text x="1473.5" y="832.6" font-size="40" font-family="Liberation Serif" font-weight="bold" fill="#231f20" stroke="#231f20" stroke-width="0.6" textLength="337.5" lengthAdjust="spacingAndGlyphs">Side-chain-free film</text>
<polygon points="92.1,717.6 460.3,771.6 460.3,800.8 92.1,745.5" fill="#e6e6e6" stroke="#c4c4c4" stroke-width="1.5"/>
<polygon points="460.3,771.6 639.4,658.6 639.4,685.2 460.3,800.8" fill="#d3d3d3" stroke="#c4c4c4" stroke-width="1.5"/>
<polygon points="92.1,717.6 258,609.6 639.4,658.6 460.3,771.6" fill="url(#pristTop)" stroke="#c9c9c9" stroke-width="1.8" stroke-linejoin="round"/>
<path d="M149.1,691.7 C152.5,693.0 165.6,694.5 169.7,699.4 C173.8,704.3 171.0,716.4 173.4,721.3 C175.8,726.1 177.2,725.7 184.3,728.5 C191.4,731.3 208.9,735.0 215.8,738.2 C222.7,741.5 218.0,744.4 225.5,748.0 C233.0,751.6 254.8,758.0 260.7,760.0" fill="none" stroke="#5fa64a" stroke-width="2.8" stroke-linecap="round"/>
<path d="M163.7,738.2 C166.7,736.2 173.2,729.7 181.9,726.1 C190.6,722.5 205.7,719.0 215.8,716.4 C225.9,713.8 237.7,712.8 242.5,710.4 C247.3,708.0 246.5,705.8 244.9,701.9 C243.3,698.0 234.8,690.5 232.8,687.3 C230.8,684.1 230.0,685.5 232.8,682.5 C235.6,679.5 247.0,671.3 249.8,669.1" fill="none" stroke="#5fa64a" stroke-width="2.8" stroke-linecap="round"/>
<path d="M211.0,660.6 C211.8,663.0 212.2,671.4 215.8,675.2 C219.4,679.1 225.5,680.1 232.8,683.7 C240.1,687.3 252.6,692.0 259.5,697.0 C266.4,702.0 267.5,708.3 274.0,714.0 C280.5,719.7 290.6,725.8 298.3,731.0 C306.0,736.2 315.7,741.0 320.1,745.5 C324.6,750.0 324.8,754.1 325.0,757.7 C325.2,761.4 321.9,765.8 321.3,767.4" fill="none" stroke="#5fa64a" stroke-width="2.8" stroke-linecap="round"/>
<path d="M261.9,624.3 C265.9,625.9 277.7,629.5 286.2,634.0 C294.7,638.5 300.7,647.4 312.8,651.0 C324.9,654.6 349.6,653.4 358.9,655.8 C368.2,658.2 366.8,660.6 368.6,665.5 C370.4,670.4 368.5,680.5 369.8,685.4 C371.1,690.3 372.1,691.8 376.2,694.7 C380.3,697.6 385.6,700.3 394.7,702.7 C403.8,705.1 424.5,708.0 430.5,709.1" fill="none" stroke="#5fa64a" stroke-width="2.8" stroke-linecap="round"/>
<path d="M301.9,623.0 C299.7,625.2 290.8,632.1 288.6,636.4 C286.4,640.6 286.6,644.1 288.6,648.5 C290.6,652.9 299.1,657.3 300.7,663.0 C302.3,668.7 296.7,676.8 298.3,682.5 C299.9,688.2 304.3,692.1 310.4,697.0 C316.5,701.9 330.2,706.4 334.7,711.6 C339.1,716.9 335.9,723.2 337.1,728.5 C338.3,733.8 334.8,739.5 341.9,743.1 C349.0,746.8 373.6,749.2 380.0,750.4" fill="none" stroke="#5fa64a" stroke-width="2.8" stroke-linecap="round"/>
<path d="M278.9,688.5 C285.4,690.3 307.2,696.4 317.7,699.4 C328.2,702.4 337.4,703.5 341.9,706.7 C346.3,709.9 344.0,716.8 344.4,718.8" fill="none" stroke="#5fa64a" stroke-width="2.8" stroke-linecap="round"/>
<path d="M381.6,631.9 C382.2,635.1 380.5,644.4 385.4,651.0 C390.3,657.6 401.9,665.0 410.8,671.3 C419.7,677.6 431.9,683.9 438.7,689.0 C445.5,694.1 445.2,698.4 451.4,701.8 C457.5,705.2 472.2,706.0 475.6,709.4 C479.0,712.8 474.6,719.1 471.8,722.1 C469.0,725.1 461.1,726.4 459.0,727.2" fill="none" stroke="#5fa64a" stroke-width="2.8" stroke-linecap="round"/>
<path d="M443.8,637.0 C450.6,638.5 476.9,642.3 484.5,645.9 C492.1,649.5 482.7,655.6 489.5,658.6 C496.3,661.6 517.5,661.2 525.1,663.7 C532.7,666.2 533.2,669.6 535.3,673.8 C537.4,678.0 533.8,685.0 537.8,689.0 C541.8,693.0 555.8,696.5 559.4,698.0" fill="none" stroke="#5fa64a" stroke-width="2.8" stroke-linecap="round"/>
<path d="M542.9,652.2 C538.7,655.0 529.8,663.8 517.5,668.7 C505.2,673.6 478.5,678.0 469.2,681.4 C459.9,684.8 460.8,685.2 461.6,689.0 C462.5,692.8 469.2,700.0 474.3,704.3 C479.4,708.5 487.9,709.9 492.1,714.5 C496.3,719.1 498.4,729.2 499.7,732.2" fill="none" stroke="#5fa64a" stroke-width="2.8" stroke-linecap="round"/>
<path d="M365.8,683.1 C365.3,684.5 362.4,688.7 363.0,691.2 C363.6,693.7 364.8,695.2 369.3,698.1 C373.8,701.0 383.5,704.6 390.0,708.5 C396.5,712.4 405.2,717.2 408.5,721.2 C411.8,725.2 409.8,728.2 409.5,732.2 C409.2,736.2 405.9,739.8 407.0,744.9 C408.1,750.0 414.0,758.0 415.9,762.7 C417.8,767.4 420.5,769.9 418.4,772.9 C416.3,775.9 405.7,779.2 403.2,780.5" fill="none" stroke="#5fa64a" stroke-width="2.8" stroke-linecap="round"/>
<path d="M380.0,750.4 C382.2,751.2 387.0,752.2 393.0,755.1 C399.0,758.0 407.8,763.1 415.9,767.8 C423.9,772.4 437.1,780.5 441.3,783.0" fill="none" stroke="#5fa64a" stroke-width="2.8" stroke-linecap="round"/>
<path d="M283.7,627.7 C284.1,627.7 285.3,627.7 286.1,627.7 C286.9,627.8 287.7,627.8 288.6,627.8 C289.4,627.9 290.2,627.9 291.0,628.0 C291.8,628.1 292.6,628.2 293.4,628.3 C294.2,628.5 295.0,628.7 295.8,629.0 C296.7,629.3 297.5,629.6 298.3,630.1 C299.1,630.5 299.9,631.0 300.7,631.5 C301.5,632.0 302.3,632.5 303.1,632.9 C303.9,633.4 304.7,633.7 305.6,634.0 C306.4,634.3 307.2,634.5 308.0,634.7 C308.8,634.8 309.6,634.9 310.4,635.0 C311.2,635.1 312.0,635.1 312.8,635.2 C313.7,635.2 314.5,635.2 315.3,635.3 C316.1,635.3 317.3,635.3 317.7,635.3" fill="none" stroke="#e8393e" stroke-width="2.5" stroke-linecap="round"/>
<path d="M297.0,657.0 C297.2,657.0 297.8,657.0 298.2,657.0 C298.6,657.0 299.0,657.0 299.4,656.9 C299.8,656.9 300.2,656.9 300.6,656.8 C301.0,656.8 301.5,656.7 301.9,656.6 C302.3,656.5 302.7,656.3 303.1,656.2 C303.5,656.0 303.9,655.7 304.3,655.4 C304.7,655.2 305.1,654.8 305.5,654.5 C305.9,654.2 306.3,653.8 306.7,653.6 C307.1,653.3 307.5,653.0 307.9,652.8 C308.3,652.7 308.7,652.5 309.1,652.4 C309.5,652.3 310.0,652.2 310.4,652.2 C310.8,652.1 311.2,652.1 311.6,652.1 C312.0,652.0 312.4,652.0 312.8,652.0 C313.2,652.0 313.8,652.0 314.0,652.0" fill="none" stroke="#e8393e" stroke-width="2.5" stroke-linecap="round"/>
<path d="M179.4,675.0 C179.8,675.0 181.1,675.0 182.0,675.0 C182.9,675.1 183.7,675.1 184.6,675.1 C185.5,675.2 186.3,675.2 187.2,675.3 C188.1,675.4 188.9,675.5 189.8,675.7 C190.7,675.9 191.5,676.2 192.4,676.5 C193.3,676.8 194.1,677.3 195.0,677.8 C195.9,678.3 196.7,678.9 197.6,679.5 C198.5,680.0 199.3,680.6 200.2,681.1 C201.1,681.6 201.9,682.1 202.8,682.4 C203.7,682.7 204.5,683.0 205.4,683.2 C206.3,683.4 207.1,683.5 208.0,683.6 C208.9,683.7 209.7,683.7 210.6,683.8 C211.5,683.8 212.3,683.8 213.2,683.9 C214.1,683.9 215.4,683.9 215.8,683.9" fill="none" stroke="#e8393e" stroke-width="2.5" stroke-linecap="round"/>
<path d="M232.8,682.5 C233.2,682.5 234.4,682.5 235.2,682.5 C236.0,682.5 236.8,682.6 237.7,682.6 C238.5,682.6 239.3,682.7 240.1,682.7 C240.9,682.8 241.7,682.9 242.5,683.0 C243.3,683.1 244.1,683.3 244.9,683.5 C245.8,683.7 246.6,684.0 247.4,684.4 C248.2,684.7 249.0,685.1 249.8,685.5 C250.6,685.9 251.4,686.3 252.2,686.6 C253.0,687.0 253.8,687.3 254.7,687.5 C255.5,687.7 256.3,687.9 257.1,688.0 C257.9,688.1 258.7,688.2 259.5,688.3 C260.3,688.3 261.1,688.4 261.9,688.4 C262.8,688.4 263.6,688.5 264.4,688.5 C265.2,688.5 266.4,688.5 266.8,688.5" fill="none" stroke="#e8393e" stroke-width="2.5" stroke-linecap="round"/>
<path d="M266.8,683.4 C267.2,683.4 268.3,683.4 269.1,683.4 C269.8,683.4 270.6,683.4 271.3,683.4 C272.1,683.5 272.8,683.5 273.6,683.5 C274.3,683.5 275.1,683.6 275.8,683.6 C276.6,683.7 277.3,683.8 278.1,683.9 C278.8,684.0 279.6,684.1 280.3,684.3 C281.1,684.5 281.8,684.7 282.6,684.9 C283.3,685.0 284.1,685.2 284.8,685.4 C285.6,685.6 286.3,685.7 287.1,685.8 C287.8,685.9 288.6,686.0 289.3,686.1 C290.1,686.1 290.8,686.2 291.6,686.2 C292.3,686.2 293.1,686.2 293.8,686.3 C294.6,686.3 295.3,686.3 296.1,686.3 C296.8,686.3 297.9,686.3 298.3,686.3" fill="none" stroke="#e8393e" stroke-width="2.5" stroke-linecap="round"/>
<path d="M303.1,672.6 C303.5,672.6 304.8,672.6 305.6,672.6 C306.5,672.7 307.3,672.7 308.1,672.7 C309.0,672.8 309.8,672.8 310.6,672.9 C311.5,673.0 312.3,673.1 313.2,673.2 C314.0,673.4 314.8,673.6 315.7,673.9 C316.5,674.2 317.3,674.5 318.2,675.0 C319.0,675.4 319.9,675.9 320.7,676.4 C321.5,676.9 322.4,677.4 323.2,677.8 C324.1,678.3 324.9,678.6 325.7,678.9 C326.6,679.2 327.4,679.4 328.2,679.6 C329.1,679.7 329.9,679.8 330.8,679.9 C331.6,680.0 332.4,680.0 333.3,680.1 C334.1,680.1 334.9,680.1 335.8,680.2 C336.6,680.2 337.9,680.2 338.3,680.2" fill="none" stroke="#e8393e" stroke-width="2.5" stroke-linecap="round"/>
<path d="M335.9,668.9 C336.3,668.9 337.6,668.9 338.4,668.9 C339.2,669.0 340.1,669.0 340.9,669.0 C341.8,669.1 342.6,669.1 343.4,669.2 C344.3,669.3 345.1,669.4 345.9,669.6 C346.8,669.8 347.6,670.1 348.4,670.4 C349.3,670.7 350.1,671.2 350.9,671.7 C351.8,672.2 352.6,672.8 353.4,673.4 C354.3,673.9 355.1,674.5 356.0,675.0 C356.8,675.5 357.6,676.0 358.5,676.3 C359.3,676.6 360.1,676.9 361.0,677.1 C361.8,677.3 362.6,677.4 363.5,677.5 C364.3,677.6 365.1,677.6 366.0,677.7 C366.8,677.7 367.7,677.7 368.5,677.8 C369.3,677.8 370.6,677.8 371.0,677.8" fill="none" stroke="#e8393e" stroke-width="2.5" stroke-linecap="round"/>
<path d="M177.0,705.5 C177.3,705.5 178.4,705.5 179.1,705.6 C179.8,705.6 180.5,705.6 181.2,705.7 C181.8,705.7 182.5,705.8 183.2,705.9 C183.9,706.0 184.6,706.2 185.3,706.4 C186.0,706.6 186.7,706.9 187.4,707.3 C188.1,707.8 188.8,708.3 189.5,708.9 C190.2,709.5 190.9,710.3 191.6,711.0 C192.2,711.6 192.9,712.4 193.6,713.0 C194.3,713.6 195.0,714.1 195.7,714.6 C196.4,715.0 197.1,715.3 197.8,715.5 C198.5,715.7 199.2,715.9 199.9,716.0 C200.6,716.1 201.2,716.2 201.9,716.2 C202.6,716.3 203.3,716.3 204.0,716.3 C204.7,716.4 205.8,716.4 206.1,716.4" fill="none" stroke="#e8393e" stroke-width="2.5" stroke-linecap="round"/>
<path d="M141.8,719.9 C142.2,719.9 143.3,719.9 144.1,719.9 C144.8,719.9 145.6,720.0 146.3,720.0 C147.1,720.0 147.8,720.0 148.6,720.1 C149.3,720.2 150.1,720.2 150.8,720.3 C151.6,720.4 152.3,720.6 153.1,720.8 C153.8,721.0 154.6,721.2 155.3,721.5 C156.1,721.8 156.8,722.2 157.6,722.5 C158.4,722.8 159.1,723.2 159.9,723.5 C160.6,723.8 161.4,724.0 162.1,724.2 C162.9,724.4 163.6,724.6 164.4,724.7 C165.1,724.8 165.9,724.8 166.6,724.9 C167.4,725.0 168.1,725.0 168.9,725.0 C169.6,725.0 170.4,725.1 171.1,725.1 C171.9,725.1 173.0,725.1 173.4,725.1" fill="none" stroke="#e8393e" stroke-width="2.5" stroke-linecap="round"/>
<path d="M242.5,712.8 C242.8,712.8 243.6,712.8 244.1,712.9 C244.7,712.9 245.2,712.9 245.8,713.0 C246.3,713.1 246.9,713.2 247.4,713.3 C248.0,713.5 248.5,713.6 249.1,713.9 C249.6,714.2 250.2,714.5 250.7,715.1 C251.3,715.6 251.8,716.2 252.4,716.9 C252.9,717.7 253.5,718.6 254.0,719.5 C254.5,720.3 255.1,721.2 255.6,722.0 C256.2,722.7 256.7,723.3 257.3,723.8 C257.8,724.4 258.4,724.7 258.9,725.0 C259.5,725.3 260.0,725.4 260.6,725.6 C261.1,725.7 261.7,725.8 262.2,725.9 C262.8,726.0 263.3,726.0 263.9,726.0 C264.4,726.1 265.2,726.1 265.5,726.1" fill="none" stroke="#e8393e" stroke-width="2.5" stroke-linecap="round"/>
<path d="M206.1,729.6 C206.5,729.6 207.6,729.6 208.3,729.6 C209.1,729.6 209.8,729.7 210.6,729.7 C211.3,729.7 212.1,729.7 212.8,729.8 C213.6,729.9 214.3,729.9 215.1,730.0 C215.8,730.1 216.6,730.3 217.3,730.5 C218.1,730.7 218.8,730.9 219.6,731.2 C220.3,731.5 221.1,731.9 221.8,732.2 C222.6,732.5 223.3,732.9 224.1,733.2 C224.8,733.5 225.6,733.7 226.3,733.9 C227.1,734.1 227.8,734.3 228.6,734.4 C229.3,734.5 230.1,734.5 230.8,734.6 C231.6,734.7 232.3,734.7 233.1,734.7 C233.8,734.7 234.6,734.8 235.3,734.8 C236.1,734.8 237.2,734.8 237.6,734.8" fill="none" stroke="#e8393e" stroke-width="2.5" stroke-linecap="round"/>
<path d="M189.1,744.1 C189.5,744.1 190.6,744.1 191.4,744.1 C192.1,744.1 192.9,744.1 193.6,744.2 C194.4,744.2 195.1,744.2 195.9,744.3 C196.6,744.3 197.4,744.3 198.1,744.4 C198.9,744.5 199.6,744.6 200.4,744.8 C201.1,744.9 201.9,745.1 202.6,745.3 C203.4,745.6 204.1,745.8 204.9,746.1 C205.7,746.4 206.4,746.6 207.2,746.9 C207.9,747.1 208.7,747.3 209.4,747.4 C210.2,747.6 210.9,747.7 211.7,747.8 C212.4,747.9 213.2,747.9 213.9,747.9 C214.7,748.0 215.4,748.0 216.2,748.0 C216.9,748.1 217.7,748.1 218.4,748.1 C219.2,748.1 220.3,748.1 220.7,748.1" fill="none" stroke="#e8393e" stroke-width="2.5" stroke-linecap="round"/>
<path d="M276.5,712.8 C276.9,712.8 278.2,712.8 279.1,712.8 C280.0,712.8 280.8,712.8 281.7,712.9 C282.6,712.9 283.4,712.9 284.3,713.0 C285.1,713.0 286.0,713.1 286.9,713.2 C287.7,713.3 288.6,713.4 289.5,713.6 C290.3,713.8 291.2,714.0 292.1,714.3 C292.9,714.6 293.8,714.9 294.6,715.2 C295.5,715.5 296.4,715.8 297.2,716.1 C298.1,716.4 299.0,716.6 299.8,716.8 C300.7,717.0 301.6,717.1 302.4,717.2 C303.3,717.3 304.2,717.4 305.0,717.4 C305.9,717.5 306.8,717.5 307.6,717.5 C308.5,717.6 309.3,717.6 310.2,717.6 C311.1,717.6 312.4,717.6 312.8,717.6" fill="none" stroke="#e8393e" stroke-width="2.5" stroke-linecap="round"/>
<path d="M293.4,701.7 C293.7,701.7 294.6,701.7 295.2,701.7 C295.8,701.7 296.4,701.7 297.0,701.7 C297.6,701.8 298.3,701.8 298.9,701.8 C299.5,701.8 300.1,701.9 300.7,701.9 C301.3,702.0 301.9,702.1 302.5,702.2 C303.1,702.3 303.7,702.4 304.3,702.6 C304.9,702.7 305.5,702.9 306.1,703.1 C306.8,703.3 307.4,703.5 308.0,703.6 C308.6,703.8 309.2,703.9 309.8,704.0 C310.4,704.1 311.0,704.2 311.6,704.3 C312.2,704.3 312.8,704.4 313.4,704.4 C314.0,704.4 314.6,704.4 315.3,704.5 C315.9,704.5 316.5,704.5 317.1,704.5 C317.7,704.5 318.6,704.5 318.9,704.5" fill="none" stroke="#e8393e" stroke-width="2.5" stroke-linecap="round"/>
<path d="M288.6,741.7 C289.0,741.7 290.2,741.7 290.9,741.7 C291.7,741.7 292.5,741.8 293.3,741.8 C294.1,741.8 294.8,741.8 295.6,741.9 C296.4,742.0 297.2,742.0 297.9,742.1 C298.7,742.2 299.5,742.4 300.3,742.6 C301.1,742.8 301.8,743.0 302.6,743.3 C303.4,743.6 304.2,744.0 305.0,744.3 C305.7,744.6 306.5,745.0 307.3,745.3 C308.1,745.6 308.8,745.8 309.6,746.0 C310.4,746.2 311.2,746.4 312.0,746.5 C312.7,746.6 313.5,746.6 314.3,746.7 C315.1,746.8 315.9,746.8 316.6,746.8 C317.4,746.8 318.2,746.9 319.0,746.9 C319.7,746.9 320.9,746.9 321.3,746.9" fill="none" stroke="#e8393e" stroke-width="2.5" stroke-linecap="round"/>
<path d="M329.8,688.4 C330.2,688.4 331.5,688.4 332.4,688.4 C333.3,688.5 334.1,688.5 335.0,688.5 C335.9,688.6 336.7,688.6 337.6,688.7 C338.5,688.8 339.3,688.9 340.2,689.1 C341.1,689.3 341.9,689.6 342.8,689.9 C343.7,690.2 344.5,690.7 345.4,691.1 C346.3,691.6 347.1,692.2 348.0,692.8 C348.9,693.4 349.7,694.0 350.6,694.5 C351.5,694.9 352.3,695.4 353.2,695.7 C354.1,696.0 354.9,696.3 355.8,696.5 C356.7,696.7 357.5,696.8 358.4,696.9 C359.3,697.0 360.1,697.0 361.0,697.1 C361.9,697.1 362.7,697.1 363.6,697.2 C364.5,697.2 365.8,697.2 366.2,697.2" fill="none" stroke="#e8393e" stroke-width="2.5" stroke-linecap="round"/>
<path d="M343.2,704.1 C343.6,704.1 344.9,704.1 345.7,704.1 C346.5,704.2 347.4,704.2 348.2,704.2 C349.1,704.3 349.9,704.3 350.7,704.4 C351.6,704.5 352.4,704.6 353.2,704.8 C354.1,705.0 354.9,705.3 355.7,705.6 C356.6,705.9 357.4,706.4 358.2,706.9 C359.1,707.4 359.9,708.0 360.8,708.5 C361.6,709.1 362.4,709.7 363.3,710.2 C364.1,710.7 364.9,711.2 365.8,711.5 C366.6,711.8 367.4,712.1 368.3,712.3 C369.1,712.5 369.9,712.6 370.8,712.7 C371.6,712.8 372.4,712.8 373.3,712.9 C374.1,712.9 375.0,712.9 375.8,713.0 C376.6,713.0 377.9,713.0 378.3,713.0" fill="none" stroke="#e8393e" stroke-width="2.5" stroke-linecap="round"/>
<path d="M334.7,726.1 C335.1,726.1 336.4,726.1 337.3,726.1 C338.2,726.1 339.0,726.1 339.9,726.2 C340.8,726.2 341.6,726.2 342.5,726.3 C343.3,726.3 344.2,726.4 345.1,726.5 C345.9,726.6 346.8,726.7 347.7,726.9 C348.5,727.1 349.4,727.4 350.3,727.6 C351.1,727.9 352.0,728.2 352.9,728.5 C353.7,728.9 354.6,729.2 355.4,729.5 C356.3,729.7 357.2,730.0 358.0,730.2 C358.9,730.4 359.8,730.5 360.6,730.6 C361.5,730.7 362.4,730.8 363.2,730.8 C364.1,730.9 364.9,730.9 365.8,730.9 C366.7,731.0 367.5,731.0 368.4,731.0 C369.3,731.0 370.6,731.0 371.0,731.0" fill="none" stroke="#e8393e" stroke-width="2.5" stroke-linecap="round"/>
<path d="M345.6,757.7 C345.8,757.7 346.4,757.7 346.8,757.7 C347.2,757.6 347.6,757.6 348.0,757.6 C348.4,757.5 348.8,757.5 349.2,757.4 C349.6,757.3 350.1,757.2 350.5,757.0 C350.9,756.8 351.3,756.6 351.7,756.3 C352.1,755.9 352.5,755.5 352.9,755.1 C353.3,754.6 353.7,754.0 354.1,753.5 C354.5,752.9 354.9,752.3 355.3,751.8 C355.7,751.4 356.1,751.0 356.5,750.6 C356.9,750.3 357.3,750.1 357.7,749.9 C358.1,749.7 358.6,749.6 359.0,749.5 C359.4,749.4 359.8,749.4 360.2,749.3 C360.6,749.3 361.0,749.3 361.4,749.2 C361.8,749.2 362.4,749.2 362.6,749.2" fill="none" stroke="#e8393e" stroke-width="2.5" stroke-linecap="round"/>
<path d="M384.1,653.4 C384.5,653.4 385.7,653.4 386.5,653.4 C387.2,653.4 388.0,653.4 388.8,653.4 C389.6,653.5 390.4,653.5 391.2,653.5 C392.0,653.5 392.7,653.6 393.5,653.6 C394.3,653.7 395.1,653.8 395.9,653.9 C396.7,654.0 397.5,654.1 398.2,654.2 C399.0,654.4 399.8,654.6 400.6,654.8 C401.4,654.9 402.2,655.1 403.0,655.3 C403.7,655.4 404.5,655.5 405.3,655.6 C406.1,655.7 406.9,655.8 407.7,655.9 C408.5,655.9 409.2,656.0 410.0,656.0 C410.8,656.0 411.6,656.0 412.4,656.1 C413.2,656.1 414.0,656.1 414.7,656.1 C415.5,656.1 416.7,656.1 417.1,656.1" fill="none" stroke="#e8393e" stroke-width="2.5" stroke-linecap="round"/>
<path d="M483.2,644.6 C483.6,644.6 484.8,644.6 485.6,644.6 C486.3,644.6 487.1,644.6 487.9,644.6 C488.7,644.7 489.5,644.7 490.3,644.7 C491.1,644.7 491.8,644.8 492.6,644.8 C493.4,644.9 494.2,644.9 495.0,645.0 C495.8,645.1 496.6,645.3 497.3,645.4 C498.1,645.6 498.9,645.7 499.7,645.9 C500.5,646.1 501.3,646.2 502.1,646.4 C502.8,646.5 503.6,646.7 504.4,646.8 C505.2,646.9 506.0,646.9 506.8,647.0 C507.6,647.0 508.3,647.1 509.1,647.1 C509.9,647.1 510.7,647.1 511.5,647.2 C512.3,647.2 513.1,647.2 513.8,647.2 C514.6,647.2 515.8,647.2 516.2,647.2" fill="none" stroke="#e8393e" stroke-width="2.5" stroke-linecap="round"/>
<path d="M468.0,659.8 C468.4,659.8 469.6,659.8 470.4,659.8 C471.1,659.8 471.9,659.8 472.7,659.9 C473.5,659.9 474.3,659.9 475.1,659.9 C475.9,660.0 476.6,660.0 477.4,660.1 C478.2,660.2 479.0,660.3 479.8,660.5 C480.6,660.6 481.4,660.8 482.1,661.0 C482.9,661.2 483.7,661.5 484.5,661.8 C485.3,662.0 486.1,662.3 486.9,662.5 C487.6,662.7 488.4,662.9 489.2,663.0 C490.0,663.2 490.8,663.3 491.6,663.4 C492.4,663.5 493.1,663.5 493.9,663.6 C494.7,663.6 495.5,663.6 496.3,663.6 C497.1,663.7 497.9,663.7 498.6,663.7 C499.4,663.7 500.6,663.7 501.0,663.7" fill="none" stroke="#e8393e" stroke-width="2.5" stroke-linecap="round"/>
<path d="M441.3,671.3 C441.6,671.3 442.4,671.3 443.0,671.4 C443.6,671.4 444.2,671.4 444.7,671.5 C445.3,671.5 445.9,671.6 446.5,671.7 C447.0,671.9 447.6,672.0 448.2,672.2 C448.8,672.5 449.3,672.8 449.9,673.2 C450.5,673.7 451.1,674.2 451.6,674.9 C452.2,675.5 452.8,676.3 453.4,677.0 C453.9,677.7 454.5,678.5 455.1,679.1 C455.6,679.8 456.2,680.3 456.8,680.8 C457.4,681.2 457.9,681.5 458.5,681.8 C459.1,682.0 459.7,682.1 460.2,682.3 C460.8,682.4 461.4,682.5 462.0,682.5 C462.5,682.6 463.1,682.6 463.7,682.6 C464.3,682.7 465.1,682.7 465.4,682.7" fill="none" stroke="#e8393e" stroke-width="2.5" stroke-linecap="round"/>
<path d="M501.0,677.6 C501.3,677.6 502.4,677.6 503.1,677.6 C503.8,677.7 504.5,677.7 505.2,677.7 C505.9,677.8 506.6,677.8 507.3,677.9 C508.0,678.0 508.6,678.1 509.3,678.3 C510.0,678.5 510.7,678.8 511.4,679.1 C512.1,679.4 512.8,679.9 513.5,680.4 C514.2,680.9 514.9,681.5 515.6,682.0 C516.3,682.6 517.0,683.2 517.7,683.7 C518.4,684.2 519.1,684.7 519.8,685.0 C520.5,685.3 521.2,685.6 521.9,685.8 C522.6,686.0 523.2,686.1 523.9,686.2 C524.6,686.3 525.3,686.3 526.0,686.4 C526.7,686.4 527.4,686.4 528.1,686.5 C528.8,686.5 529.9,686.5 530.2,686.5" fill="none" stroke="#e8393e" stroke-width="2.5" stroke-linecap="round"/>
<path d="M532.7,666.1 C533.1,666.1 534.2,666.1 535.0,666.1 C535.7,666.1 536.5,666.1 537.2,666.1 C538.0,666.2 538.8,666.2 539.5,666.2 C540.3,666.2 541.0,666.3 541.8,666.3 C542.5,666.4 543.3,666.5 544.1,666.6 C544.8,666.7 545.6,666.8 546.3,666.9 C547.1,667.1 547.8,667.3 548.6,667.5 C549.4,667.6 550.1,667.8 550.9,668.0 C551.6,668.1 552.4,668.2 553.1,668.3 C553.9,668.4 554.7,668.5 555.4,668.6 C556.2,668.6 556.9,668.7 557.7,668.7 C558.4,668.7 559.2,668.7 560.0,668.8 C560.7,668.8 561.5,668.8 562.2,668.8 C563.0,668.8 564.1,668.8 564.5,668.8" fill="none" stroke="#e8393e" stroke-width="2.5" stroke-linecap="round"/>
<path d="M395.6,677.6 C396.0,677.6 397.4,677.6 398.2,677.6 C399.1,677.7 400.0,677.7 400.9,677.7 C401.7,677.8 402.6,677.8 403.5,677.9 C404.4,678.0 405.2,678.2 406.1,678.3 C407.0,678.5 407.9,678.8 408.7,679.1 C409.6,679.5 410.5,679.9 411.4,680.4 C412.2,680.9 413.1,681.5 414.0,682.1 C414.9,682.7 415.8,683.3 416.6,683.8 C417.5,684.3 418.4,684.7 419.3,685.1 C420.1,685.4 421.0,685.7 421.9,685.9 C422.8,686.0 423.6,686.2 424.5,686.3 C425.4,686.4 426.3,686.4 427.1,686.5 C428.0,686.5 428.9,686.5 429.8,686.6 C430.6,686.6 432.0,686.6 432.4,686.6" fill="none" stroke="#e8393e" stroke-width="2.5" stroke-linecap="round"/>
<path d="M389.2,698.0 C389.5,698.0 390.4,698.0 391.0,698.0 C391.6,698.0 392.2,697.9 392.8,697.9 C393.4,697.9 394.0,697.8 394.6,697.8 C395.2,697.7 395.9,697.6 396.5,697.5 C397.1,697.3 397.7,697.2 398.3,696.9 C398.9,696.7 399.5,696.4 400.1,696.0 C400.7,695.7 401.3,695.2 401.9,694.8 C402.5,694.4 403.1,693.9 403.7,693.6 C404.3,693.2 404.9,692.9 405.5,692.7 C406.1,692.4 406.7,692.3 407.3,692.1 C407.9,692.0 408.6,691.9 409.2,691.8 C409.8,691.8 410.4,691.7 411.0,691.7 C411.6,691.7 412.2,691.6 412.8,691.6 C413.4,691.6 414.3,691.6 414.6,691.6" fill="none" stroke="#e8393e" stroke-width="2.5" stroke-linecap="round"/>
<path d="M352.0,706.8 C352.3,706.8 353.3,706.8 353.9,706.8 C354.6,706.8 355.2,706.9 355.9,706.9 C356.5,706.9 357.1,706.9 357.8,707.0 C358.4,707.1 359.1,707.1 359.7,707.2 C360.4,707.3 361.0,707.5 361.6,707.7 C362.3,707.9 362.9,708.1 363.6,708.4 C364.2,708.7 364.9,709.1 365.5,709.4 C366.1,709.7 366.8,710.1 367.4,710.4 C368.1,710.7 368.7,710.9 369.4,711.1 C370.0,711.3 370.6,711.5 371.3,711.6 C371.9,711.7 372.6,711.7 373.2,711.8 C373.9,711.9 374.5,711.9 375.1,711.9 C375.8,711.9 376.4,712.0 377.1,712.0 C377.7,712.0 378.7,712.0 379.0,712.0" fill="none" stroke="#e8393e" stroke-width="2.5" stroke-linecap="round"/>
<path d="M441.3,708.1 C441.7,708.1 442.9,708.1 443.8,708.1 C444.6,708.1 445.4,708.2 446.2,708.2 C447.0,708.2 447.8,708.2 448.7,708.3 C449.5,708.3 450.3,708.4 451.1,708.5 C451.9,708.6 452.7,708.8 453.6,709.0 C454.4,709.2 455.2,709.4 456.0,709.7 C456.8,710.0 457.6,710.3 458.5,710.7 C459.3,711.0 460.1,711.3 460.9,711.6 C461.7,711.9 462.5,712.1 463.4,712.3 C464.2,712.5 465.0,712.7 465.8,712.8 C466.6,712.9 467.4,713.0 468.2,713.0 C469.1,713.1 469.9,713.1 470.7,713.1 C471.5,713.1 472.3,713.2 473.2,713.2 C474.0,713.2 475.2,713.2 475.6,713.2" fill="none" stroke="#e8393e" stroke-width="2.5" stroke-linecap="round"/>
<path d="M493.4,709.3 C493.8,709.3 495.1,709.3 495.9,709.3 C496.8,709.4 497.6,709.4 498.5,709.4 C499.3,709.5 500.2,709.5 501.0,709.6 C501.9,709.7 502.7,709.8 503.5,709.9 C504.4,710.1 505.2,710.3 506.1,710.6 C506.9,710.9 507.8,711.3 508.6,711.7 C509.5,712.2 510.3,712.7 511.1,713.2 C512.0,713.7 512.8,714.2 513.7,714.7 C514.5,715.1 515.4,715.5 516.2,715.8 C517.1,716.1 517.9,716.3 518.8,716.5 C519.6,716.6 520.4,716.7 521.3,716.8 C522.1,716.9 523.0,716.9 523.8,717.0 C524.7,717.0 525.5,717.0 526.4,717.1 C527.2,717.1 528.5,717.1 528.9,717.1" fill="none" stroke="#e8393e" stroke-width="2.5" stroke-linecap="round"/>
<path d="M408.3,718.2 C408.7,718.2 409.9,718.2 410.7,718.2 C411.6,718.2 412.4,718.3 413.2,718.3 C414.0,718.3 414.8,718.3 415.6,718.4 C416.4,718.5 417.3,718.5 418.1,718.6 C418.9,718.7 419.7,718.9 420.5,719.1 C421.3,719.3 422.1,719.5 423.0,719.8 C423.8,720.1 424.6,720.5 425.4,720.8 C426.2,721.1 427.0,721.5 427.8,721.8 C428.7,722.1 429.5,722.3 430.3,722.5 C431.1,722.7 431.9,722.9 432.7,723.0 C433.5,723.1 434.4,723.1 435.2,723.2 C436.0,723.3 436.8,723.3 437.6,723.3 C438.4,723.3 439.2,723.4 440.1,723.4 C440.9,723.4 442.1,723.4 442.5,723.4" fill="none" stroke="#e8393e" stroke-width="2.5" stroke-linecap="round"/>
<path d="M367.6,722.0 C368.0,722.0 369.4,722.0 370.2,722.0 C371.1,722.1 372.0,722.1 372.9,722.1 C373.8,722.2 374.6,722.2 375.5,722.3 C376.4,722.4 377.3,722.6 378.1,722.7 C379.0,722.9 379.9,723.2 380.8,723.5 C381.7,723.9 382.5,724.3 383.4,724.8 C384.3,725.3 385.2,725.9 386.1,726.5 C386.9,727.1 387.8,727.7 388.7,728.2 C389.6,728.7 390.4,729.1 391.3,729.5 C392.2,729.8 393.1,730.1 394.0,730.3 C394.8,730.4 395.7,730.6 396.6,730.7 C397.5,730.8 398.4,730.8 399.2,730.9 C400.1,730.9 401.0,730.9 401.9,731.0 C402.7,731.0 404.1,731.0 404.5,731.0" fill="none" stroke="#e8393e" stroke-width="2.5" stroke-linecap="round"/>
<path d="M391.8,743.7 C392.0,743.7 392.5,743.7 392.9,743.7 C393.2,743.7 393.6,743.7 394.0,743.8 C394.3,743.8 394.7,743.8 395.1,743.9 C395.4,743.9 395.8,744.0 396.1,744.1 C396.5,744.2 396.9,744.4 397.2,744.5 C397.6,744.7 398.0,745.0 398.3,745.3 C398.7,745.5 399.0,745.9 399.4,746.2 C399.8,746.5 400.1,746.9 400.5,747.1 C400.8,747.4 401.2,747.7 401.6,747.9 C401.9,748.0 402.3,748.2 402.7,748.3 C403.0,748.4 403.4,748.5 403.7,748.5 C404.1,748.6 404.5,748.6 404.8,748.6 C405.2,748.7 405.6,748.7 405.9,748.7 C406.3,748.7 406.8,748.7 407.0,748.7" fill="none" stroke="#e8393e" stroke-width="2.5" stroke-linecap="round"/>
<path d="M385.4,769.0 C385.8,769.0 387.1,769.0 387.9,769.0 C388.8,769.1 389.6,769.1 390.5,769.1 C391.3,769.2 392.2,769.2 393.0,769.3 C393.9,769.4 394.7,769.6 395.6,769.7 C396.4,769.9 397.3,770.2 398.1,770.5 C399.0,770.9 399.8,771.3 400.7,771.8 C401.5,772.3 402.4,772.9 403.2,773.5 C404.0,774.1 404.9,774.7 405.7,775.2 C406.6,775.7 407.4,776.1 408.3,776.5 C409.1,776.8 410.0,777.1 410.8,777.3 C411.7,777.4 412.5,777.6 413.4,777.7 C414.2,777.8 415.1,777.8 415.9,777.9 C416.8,777.9 417.6,777.9 418.5,778.0 C419.3,778.0 420.6,778.0 421.0,778.0" fill="none" stroke="#e8393e" stroke-width="2.5" stroke-linecap="round"/>
<path d="M345.8,646.8 C345.8,646.9 345.9,647.2 345.9,647.3 C346.0,647.5 346.0,647.7 346.1,647.9 C346.1,648.1 346.1,648.2 346.1,648.4 C346.1,648.6 346.1,648.8 346.1,649.1 C346.0,649.3 345.9,649.5 345.8,649.8 C345.6,650.0 345.5,650.3 345.2,650.6 C345.0,650.9 344.7,651.2 344.5,651.5 C344.3,651.8 344.0,652.1 343.8,652.4 C343.5,652.7 343.4,653.0 343.2,653.2 C343.1,653.5 343.0,653.7 342.9,653.9 C342.9,654.2 342.9,654.4 342.9,654.6 C342.9,654.8 342.9,654.9 342.9,655.1 C343.0,655.3 343.0,655.5 343.1,655.7 C343.1,655.8 343.2,656.1 343.2,656.2" fill="none" stroke="#e8393e" stroke-width="2.5" stroke-linecap="round"/>
<g>
<path d="M278,526 L284.5,520.5 L342.5,579 L340.5,581.5 Z" fill="#eef1f7" stroke="#3b3f8f" stroke-width="1.3" stroke-linejoin="round"/>
<path d="M300,543.5 L305.5,538.5 L342.5,579 L340.5,581.5 Z" fill="#a9b7ca"/>
<g transform="rotate(37 257 508)"><rect x="238" y="500.5" width="38" height="15" rx="7.5" fill="url(#bulb)" stroke="#4a6fae" stroke-width="0.8"/></g>
<polygon points="275.1,502.4 289.6,513.3 280.3,526.8 264.7,516.4" fill="#1c1c6e"/>
<polygon points="255.3,526.8 264.7,516.4 280.3,526.8 268.8,538.2" fill="#d7d7ef" stroke="#1c1c6e" stroke-width="1.6" stroke-linejoin="round"/>
</g>
<path d="M354.7,560 C356,584 382,598 382,621.5 A27,27 0 1 1 328,621.5 C328,598 353,584 354.7,560 Z" fill="#a9b6c8" stroke="#707272" stroke-width="3.5" stroke-linejoin="round"/>
<circle cx="348.9" cy="604.3" r="4" fill="#e2e6ec"/><circle cx="359.3" cy="621.3" r="10" fill="#d6dce4"/>
<polygon points="1383.3,713.7 1749.7,768.2 1749.7,794.7 1383.3,741.6" fill="url(#freeFront)" stroke="#d6dbe3" stroke-width="1.5"/>
<polygon points="1749.7,768.2 1928,656 1928,682.4 1749.7,794.7" fill="url(#freeSide)" stroke="#d6dbe3" stroke-width="1.5"/>
<polygon points="1383.3,713.7 1561.6,599.7 1928,656 1749.7,768.2" fill="url(#freeTop)" stroke="#d3d8e0" stroke-width="2" stroke-linejoin="round"/>
<line x1="1383.3" y1="713.7" x2="1749.7" y2="768.2" stroke="#f2f4f8" stroke-width="2"/>
<path d="M1553.0,609.4 Q1708.0,636.4 1863.0,658.4" fill="none" stroke="#3d8b3a" stroke-width="3" stroke-linecap="round"/>
<path d="M1537.0,614.3 Q1688.5,641.0 1840.0,662.6" fill="none" stroke="#3d8b3a" stroke-width="3" stroke-linecap="round"/>
<path d="M1733.0,651.0 Q1808.0,665.9 1883.0,675.8" fill="none" stroke="#3d8b3a" stroke-width="3" stroke-linecap="round"/>
<path d="M1554.0,628.8 Q1702.0,655.0 1850.0,676.1" fill="none" stroke="#3d8b3a" stroke-width="3" stroke-linecap="round"/>
<path d="M1558.0,639.7 Q1709.5,665.4 1861.0,686.1" fill="none" stroke="#3d8b3a" stroke-width="3" stroke-linecap="round"/>
<path d="M1543.0,643.4 Q1694.5,669.5 1846.0,690.7" fill="none" stroke="#3d8b3a" stroke-width="3" stroke-linecap="round"/>
<path d="M1506.0,645.8 Q1655.5,671.2 1805.0,691.7" fill="none" stroke="#3d8b3a" stroke-width="3" stroke-linecap="round"/>
<path d="M1522.0,655.5 Q1682.0,681.8 1842.0,703.1" fill="none" stroke="#3d8b3a" stroke-width="3" stroke-linecap="round"/>
<path d="M1520.0,662.8 Q1671.5,687.3 1823.0,706.9" fill="none" stroke="#3d8b3a" stroke-width="3" stroke-linecap="round"/>
<path d="M1690.0,690.0 Q1746.5,703.2 1803.0,711.4" fill="none" stroke="#3d8b3a" stroke-width="3" stroke-linecap="round"/>
<path d="M1469.0,670.0 Q1645.0,698.4 1821.0,721.8" fill="none" stroke="#3d8b3a" stroke-width="3" stroke-linecap="round"/>
<path d="M1488.0,681.0 Q1629.5,706.8 1771.0,727.6" fill="none" stroke="#3d8b3a" stroke-width="3" stroke-linecap="round"/>
<path d="M1468.0,685.8 Q1618.5,713.0 1769.0,735.3" fill="none" stroke="#3d8b3a" stroke-width="3" stroke-linecap="round"/>
<path d="M1448.0,689.4 Q1616.5,719.5 1785.0,744.7" fill="none" stroke="#3d8b3a" stroke-width="3" stroke-linecap="round"/>
<path d="M1486.0,701.6 Q1617.5,727.7 1749.0,748.8" fill="none" stroke="#3d8b3a" stroke-width="3" stroke-linecap="round"/>
<path d="M1444.0,702.8 Q1588.5,729.9 1733.0,752.0" fill="none" stroke="#3d8b3a" stroke-width="3" stroke-linecap="round"/>
<path d="M1429.0,707.6 Q1582.5,737.5 1736.0,762.4" fill="none" stroke="#3d8b3a" stroke-width="3" stroke-linecap="round"/>
<path d="M1440.0,716.1 Q1597.0,748.2 1754.0,775.4" fill="none" stroke="#3d8b3a" stroke-width="3" stroke-linecap="round"/>
<path d="M1408.0,717.3 Q1573.0,751.6 1738.0,781.0" fill="none" stroke="#3d8b3a" stroke-width="3" stroke-linecap="round"/>
<path d="M1451.0,730.7 Q1575.5,752.9 1700.0,770.0" fill="none" stroke="#3d8b3a" stroke-width="3" stroke-linecap="round"/>
<path d="M1428.0,735.0 Q1544.0,756.0 1660.0,772.0" fill="none" stroke="#3d8b3a" stroke-width="3" stroke-linecap="round"/>
<path d="M1612.5,684.6 Q1656.2,693.3 1700.0,697.0" fill="none" stroke="#3d8b3a" stroke-width="3" stroke-linecap="round"/>
<path d="M1583.0,729.5 Q1636.5,741.2 1690.0,748.0" fill="none" stroke="#3d8b3a" stroke-width="3" stroke-linecap="round"/>
<path d="M1619.8,704.0 Q1659.9,712.5 1700.0,716.0" fill="none" stroke="#3d8b3a" stroke-width="3" stroke-linecap="round"/>
<circle cx="1549.7" cy="636.1" r="6.8" fill="url(#goldM)" stroke="#7a5c10" stroke-width="0.8"/>
<line x1="1545.5" y1="636.1" x2="1553.9" y2="636.1" stroke="#1a1a1a" stroke-width="2.2"/>
<circle cx="1589.9" cy="646.5" r="6.8" fill="url(#goldP)" stroke="#8a6a16" stroke-width="1"/>
<line x1="1585.9" y1="646.5" x2="1593.9" y2="646.5" stroke="#1a1a1a" stroke-width="2"/>
<line x1="1589.9" y1="642.5" x2="1589.9" y2="650.5" stroke="#1a1a1a" stroke-width="2"/>
<circle cx="1646.6" cy="641.9" r="6.8" fill="url(#goldP)" stroke="#8a6a16" stroke-width="1"/>
<line x1="1642.6" y1="641.9" x2="1650.6" y2="641.9" stroke="#1a1a1a" stroke-width="2"/>
<line x1="1646.6" y1="637.9" x2="1646.6" y2="645.9" stroke="#1a1a1a" stroke-width="2"/>
<circle cx="1684.6" cy="642.7" r="6.8" fill="url(#goldM)" stroke="#7a5c10" stroke-width="0.8"/>
<line x1="1680.3999999999999" y1="642.7" x2="1688.8" y2="642.7" stroke="#1a1a1a" stroke-width="2.2"/>
<circle cx="1741.4" cy="666.5" r="6.8" fill="url(#goldP)" stroke="#8a6a16" stroke-width="1"/>
<line x1="1737.4" y1="666.5" x2="1745.4" y2="666.5" stroke="#1a1a1a" stroke-width="2"/>
<line x1="1741.4" y1="662.5" x2="1741.4" y2="670.5" stroke="#1a1a1a" stroke-width="2"/>
<circle cx="1832.3" cy="674.1" r="6.8" fill="url(#goldP)" stroke="#8a6a16" stroke-width="1"/>
<line x1="1828.3" y1="674.1" x2="1836.3" y2="674.1" stroke="#1a1a1a" stroke-width="2"/>
<line x1="1832.3" y1="670.1" x2="1832.3" y2="678.1" stroke="#1a1a1a" stroke-width="2"/>
<circle cx="1601.3" cy="682" r="6.8" fill="url(#goldM)" stroke="#7a5c10" stroke-width="0.8"/>
<line x1="1597.1" y1="682" x2="1605.5" y2="682" stroke="#1a1a1a" stroke-width="2.2"/>
<circle cx="1679.7" cy="683" r="6.8" fill="url(#goldM)" stroke="#7a5c10" stroke-width="0.8"/>
<line x1="1675.5" y1="683" x2="1683.9" y2="683" stroke="#1a1a1a" stroke-width="2.2"/>
<circle cx="1513" cy="688.6" r="6.8" fill="url(#goldP)" stroke="#8a6a16" stroke-width="1"/>
<line x1="1509" y1="688.6" x2="1517" y2="688.6" stroke="#1a1a1a" stroke-width="2"/>
<line x1="1513" y1="684.6" x2="1513" y2="692.6" stroke="#1a1a1a" stroke-width="2"/>
<circle cx="1547.2" cy="689.5" r="6.8" fill="url(#goldM)" stroke="#7a5c10" stroke-width="0.8"/>
<line x1="1543.0" y1="689.5" x2="1551.4" y2="689.5" stroke="#1a1a1a" stroke-width="2.2"/>
<circle cx="1611.2" cy="709.1" r="6.8" fill="url(#goldM)" stroke="#7a5c10" stroke-width="0.8"/>
<line x1="1607.0" y1="709.1" x2="1615.4" y2="709.1" stroke="#1a1a1a" stroke-width="2.2"/>
<circle cx="1689.3" cy="709.8" r="6.8" fill="url(#goldM)" stroke="#7a5c10" stroke-width="0.8"/>
<line x1="1685.1" y1="709.8" x2="1693.5" y2="709.8" stroke="#1a1a1a" stroke-width="2.2"/>
<circle cx="1743.1" cy="702.9" r="6.8" fill="url(#goldM)" stroke="#7a5c10" stroke-width="0.8"/>
<line x1="1738.8999999999999" y1="702.9" x2="1747.3" y2="702.9" stroke="#1a1a1a" stroke-width="2.2"/>
<circle cx="1777.8" cy="703.8" r="6.8" fill="url(#goldP)" stroke="#8a6a16" stroke-width="1"/>
<line x1="1773.8" y1="703.8" x2="1781.8" y2="703.8" stroke="#1a1a1a" stroke-width="2"/>
<line x1="1777.8" y1="699.8" x2="1777.8" y2="707.8" stroke="#1a1a1a" stroke-width="2"/>
<circle cx="1457.7" cy="718.8" r="6.8" fill="url(#goldP)" stroke="#8a6a16" stroke-width="1"/>
<line x1="1453.7" y1="718.8" x2="1461.7" y2="718.8" stroke="#1a1a1a" stroke-width="2"/>
<line x1="1457.7" y1="714.8" x2="1457.7" y2="722.8" stroke="#1a1a1a" stroke-width="2"/>
<circle cx="1549" cy="725.3" r="6.8" fill="url(#goldP)" stroke="#8a6a16" stroke-width="1"/>
<line x1="1545" y1="725.3" x2="1553" y2="725.3" stroke="#1a1a1a" stroke-width="2"/>
<line x1="1549" y1="721.3" x2="1549" y2="729.3" stroke="#1a1a1a" stroke-width="2"/>
<circle cx="1606.3" cy="749" r="6.8" fill="url(#goldM)" stroke="#7a5c10" stroke-width="0.8"/>
<line x1="1602.1" y1="749" x2="1610.5" y2="749" stroke="#1a1a1a" stroke-width="2.2"/>
<circle cx="1643.7" cy="750" r="6.8" fill="url(#goldP)" stroke="#8a6a16" stroke-width="1"/>
<line x1="1639.7" y1="750" x2="1647.7" y2="750" stroke="#1a1a1a" stroke-width="2"/>
<line x1="1643.7" y1="746" x2="1643.7" y2="754" stroke="#1a1a1a" stroke-width="2"/>
<circle cx="1700.8" cy="744.5" r="6.8" fill="url(#goldP)" stroke="#8a6a16" stroke-width="1"/>
<line x1="1696.8" y1="744.5" x2="1704.8" y2="744.5" stroke="#1a1a1a" stroke-width="2"/>
<line x1="1700.8" y1="740.5" x2="1700.8" y2="748.5" stroke="#1a1a1a" stroke-width="2"/>
<circle cx="1741.4" cy="755" r="6.8" fill="url(#goldM)" stroke="#7a5c10" stroke-width="0.8"/>
<line x1="1737.2" y1="755" x2="1745.6000000000001" y2="755" stroke="#1a1a1a" stroke-width="2.2"/>
</svg>
</body></html>
